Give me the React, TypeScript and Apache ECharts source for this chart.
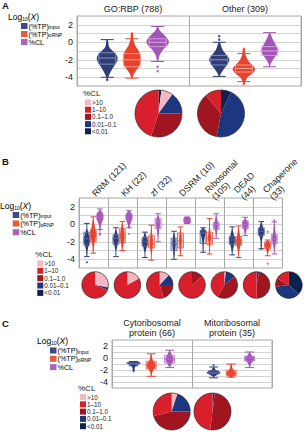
import React, { useEffect, useRef } from "react";
import * as echarts from "echarts";

const FONT = "'Liberation Sans', Arial, sans-serif";

// %CL classes, in legend order
const CL_CLASSES = [">10", "1–10", "0.1–1.0", "0.01–0.1", "<0.01"];
const CL_COLORS = ["#f3b8c1", "#d81f2b", "#a0151f", "#1d3680", "#0c2150"];
// clockwise slice order from 12 o'clock (indices into CL_CLASSES)
const SLICE_ORDER = [4, 0, 3, 2, 1];

// measures drawn per group: (%TP)input, (%TP)oRNP, %CL
const MEASURE_LABELS = ["{n|(%TP)}{s|input}", "{n|(%TP)}{s|oRNP}", "{n|%CL}"];
const DARK = ["#2f3d74", "#e6432e", "#a354b6"];
const LIGHT = ["#909ed4", "#f8ae9f", "#dcb0e6"];
const BOX_FILL = ["#bcc4e2", "#f9c6be", "#e6c8ee"];
const BOX_EDGE = ["#5b6aa6", "#e8523c", "#b470c4"];
const SWATCH = ["#3d4a86", "#e85a40", "#a963bb"];
const OFFSETS = [0.27, 0.49, 0.72];

// ---------- Panel A ----------
const A_GROUPS = ["GO:RBP (788)", "Other (309)"];
// [lower whisker, q1, median, q3, upper whisker]
const A_BOX = [
  [[-4.0, -2.5, -1.8, -1.2, 0.3], [-4.1, -2.8, -2.0, -1.3, 0.4], [-2.2, -0.5, 0.0, 0.4, 1.8]],
  [[-3.9, -2.6, -2.0, -1.5, 0.0], [-4.5, -3.4, -3.0, -2.6, -1.3], [-2.8, -1.5, -1.0, -0.5, 1.1]],
];
const A_OUTLIERS = [
  [[-4.3], [0.7, 0.85, 1.0], [-2.8, -3.3]],
  [[0.3, 0.7], [-0.75, -0.95, -1.1, -4.75], []],
];
// violin outlines: [log10 value, relative half-width]
const A_VIOLIN = [
  [
    [[0.3, 0.05], [-0.5, 0.15], [-1.0, 0.45], [-1.6, 0.8], [-2.1, 0.8], [-2.7, 0.55], [-3.3, 0.3], [-3.9, 0.1], [-4.3, 0.03]],
    [[1.0, 0.05], [0.4, 0.1], [-0.3, 0.25], [-1.0, 0.55], [-1.6, 0.7], [-2.3, 0.7], [-2.9, 0.5], [-3.5, 0.2], [-4.1, 0.03]],
    [[1.8, 0.04], [1.4, 0.15], [0.8, 0.55], [0.1, 0.9], [-0.4, 0.75], [-0.9, 0.4], [-1.5, 0.15], [-2.2, 0.03]],
  ],
  [
    [[0.0, 0.05], [-0.8, 0.25], [-1.4, 0.55], [-1.9, 0.8], [-2.4, 0.7], [-3.0, 0.4], [-3.5, 0.15], [-3.9, 0.03]],
    [[-0.8, 0.05], [-1.5, 0.15], [-2.2, 0.4], [-2.7, 0.75], [-3.1, 0.9], [-3.5, 0.7], [-4.0, 0.3], [-4.5, 0.1], [-4.8, 0.02]],
    [[1.1, 0.03], [0.5, 0.2], [-0.2, 0.45], [-0.8, 0.65], [-1.3, 0.6], [-1.9, 0.3], [-2.4, 0.1], [-2.8, 0.02]],
  ],
];
// %CL class shares per group (CL_CLASSES order)
const A_PIES = [
  [8, 45, 30, 15, 2],
  [0, 11, 36, 46, 7],
];

// ---------- Panel B ----------
const B_GROUPS = ["RRM (121)", "KH (22)", "zf (32)", "DSRM (10)", "Ribosomal\n(105)", "DEAD\n(44)", "Chaperone\n(33)"];
const B_BOX = [
  [[-3.7, -2.4, -1.65, -0.9, 0.1], [-3.3, -2.0, -1.2, -0.6, 0.85], [-0.6, 0.45, 0.8, 1.3, 1.75]],
  [[-3.7, -2.3, -1.6, -1.2, -0.4], [-3.0, -2.1, -1.2, -0.5, 0.3], [-0.4, 0.45, 0.7, 1.2, 1.55]],
  [[-3.8, -2.5, -2.0, -1.5, -0.9], [-4.1, -2.7, -2.3, -1.3, -0.1], [-2.0, -0.5, 0.2, 0.65, 1.2]],
  [[-4.0, -3.0, -2.2, -1.6, -0.8], [-3.6, -2.7, -1.9, -1.0, -0.3], [0.1, 0.15, 0.4, 0.75, 0.8]],
  [[-3.2, -2.2, -1.0, -0.7, -0.4], [-3.4, -2.3, -1.6, -0.9, 0.65], [-1.6, -0.6, -0.1, 0.2, 1.2]],
  [[-3.5, -2.3, -1.8, -1.4, -0.3], [-3.8, -2.4, -2.0, -1.4, -0.2], [-1.3, -0.5, 0.0, 0.4, 0.8]],
  [[-2.8, -1.3, -0.8, -0.4, 0.3], [-3.6, -2.8, -2.4, -2.0, -1.8], [-3.4, -2.2, -1.7, -1.2, 0.27]],
];
const B_OUTLIERS = [
  [[-4.35], [], [-1.05, -1.2]],
  [[], [], [-1.1]],
  [[], [], []],
  [[], [], []],
  [[], [], []],
  [[], [], []],
  [[-2.8], [-0.85, -4.5], [0.45]],
];
const B_VIOLIN = [
  [
    [[-0.5, 0.1], [-1.2, 0.6], [-1.7, 1.0], [-2.3, 0.7], [-3.0, 0.2], [-3.6, 0.05]],
    [[0.6, 0.1], [-0.5, 0.6], [-1.1, 0.9], [-1.8, 0.6], [-2.6, 0.2], [-3.2, 0.05]],
    [[1.6, 0.2], [1.1, 1.0], [0.6, 1.0], [0.2, 0.6], [-0.3, 0.2], [-0.9, 0.1]],
  ],
  [
    [[-0.6, 0.1], [-1.3, 0.6], [-1.7, 0.9], [-2.2, 0.6], [-3.0, 0.1]],
    [[0.1, 0.1], [-0.7, 0.5], [-1.3, 0.7], [-2.0, 0.5], [-2.8, 0.1]],
    [[1.5, 0.3], [1.0, 1.0], [0.5, 0.9], [0.0, 0.4], [-0.5, 0.1]],
  ],
  [
    [[-1.0, 0.1], [-1.6, 0.6], [-2.0, 0.9], [-2.5, 0.6], [-3.2, 0.1]],
    [[-0.3, 0.05], [-1.3, 0.3], [-2.0, 0.5], [-2.6, 0.4], [-3.5, 0.05]],
    [[1.0, 0.1], [0.5, 0.5], [0.0, 0.6], [-0.6, 0.4], [-1.5, 0.05]],
  ],
  [
    [[-1.0, 0.1], [-1.6, 0.4], [-2.3, 0.5], [-3.0, 0.3], [-3.8, 0.05]],
    [[-0.5, 0.05], [-1.2, 0.3], [-1.9, 0.4], [-2.6, 0.3], [-3.4, 0.05]],
    [[0.85, 0.7], [0.6, 1.1], [0.3, 1.1], [0.05, 0.7]],
  ],
  [
    [[-0.5, 0.3], [-0.8, 0.9], [-1.2, 0.7], [-1.8, 0.3], [-2.5, 0.1], [-3.0, 0.05]],
    [[0.2, 0.05], [-0.9, 0.3], [-1.5, 0.5], [-2.1, 0.3], [-3.0, 0.05]],
    [[1.0, 0.05], [0.3, 0.5], [-0.1, 0.7], [-0.6, 0.4], [-1.4, 0.05]],
  ],
  [
    [[-0.5, 0.05], [-1.3, 0.6], [-1.8, 0.9], [-2.3, 0.6], [-3.2, 0.05]],
    [[-0.4, 0.05], [-1.4, 0.5], [-2.0, 0.8], [-2.5, 0.5], [-3.4, 0.05]],
    [[0.7, 0.1], [0.3, 0.7], [-0.1, 0.9], [-0.5, 0.5], [-1.2, 0.05]],
  ],
  [
    [[0.2, 0.1], [-0.4, 0.6], [-0.8, 1.0], [-1.3, 0.6], [-2.0, 0.15], [-2.6, 0.15]],
    [[-1.8, 0.1], [-2.1, 0.6], [-2.4, 0.9], [-2.8, 0.5], [-3.4, 0.1]],
    [[0.2, 0.05], [-1.0, 0.4], [-1.6, 0.7], [-2.1, 0.5], [-3.0, 0.05]],
  ],
];
const B_PIES = [
  [28, 69, 0, 3, 0],
  [17, 83, 0, 0, 0],
  [12, 55, 20, 13, 0],
  [0, 86, 14, 0, 0],
  [2, 42, 44, 12, 0],
  [0, 50, 47, 3, 0],
  [0, 17, 10, 36, 37],
];

// ---------- Panel C ----------
const C_GROUPS = ["Cytoribosomal\nprotein (66)", "Mitoribosomal\nprotein (35)"];
const C_BOX = [
  [[-1.3, -1.1, -0.9, -0.7, -0.6], [-3.05, -1.8, -1.2, -0.55, 0.7], [-1.6, -0.85, -0.2, 0.45, 1.3]],
  [[-3.3, -2.6, -2.4, -2.1, -1.5], [-3.2, -2.9, -2.6, -2.05, -1.0], [-1.6, -0.5, 0.0, 0.3, 1.0]],
];
const C_OUTLIERS = [
  [[-2.0, -2.2], [], []],
  [[-1.2], [], []],
];
const C_VIOLIN = [
  [
    [[-0.5, 0.1], [-0.7, 0.8], [-0.85, 1.0], [-1.0, 0.7], [-1.3, 0.3], [-1.7, 0.15], [-2.2, 0.05]],
    [[0.6, 0.05], [-0.3, 0.2], [-0.9, 0.5], [-1.3, 0.6], [-1.8, 0.4], [-2.5, 0.1], [-3.0, 0.02]],
    [[1.2, 0.05], [0.5, 0.3], [0.0, 0.5], [-0.4, 0.5], [-0.9, 0.3], [-1.5, 0.05]],
  ],
  [
    [[-1.5, 0.05], [-2.0, 0.3], [-2.3, 0.8], [-2.5, 0.9], [-2.8, 0.5], [-3.1, 0.1]],
    [[-1.1, 0.05], [-1.8, 0.2], [-2.3, 0.5], [-2.7, 0.6], [-3.0, 0.3], [-3.3, 0.05]],
    [[0.9, 0.05], [0.4, 0.3], [0.0, 0.6], [-0.4, 0.5], [-0.9, 0.2], [-1.5, 0.05]],
  ],
];
const C_PIES = [
  [5, 29, 46, 20, 0],
  [0, 48, 50, 2, 0],
];

const Y_MIN = -5;
const Y_MAX = 3;

type PanelStyle = { mode: "solid" | "boxed"; vScale: number; box: number; cap: number; dot: number };

const PANELS = [
  {
    groups: A_GROUPS, box: A_BOX, outliers: A_OUTLIERS, violin: A_VIOLIN,
    grid: { left: 77, top: 16, width: 224, height: 70 },
    style: { mode: "solid", vScale: 12.5, box: 8.5, cap: 6.5, dot: 2.6 } as PanelStyle,
    rotate: 0,
  },
  {
    groups: B_GROUPS, box: B_BOX, outliers: B_OUTLIERS, violin: B_VIOLIN,
    grid: { left: 79, top: 198, width: 226, height: 70 },
    style: { mode: "boxed", vScale: 3.2, box: 3, cap: 2.8, dot: 2.2 } as PanelStyle,
    rotate: -45,
  },
  {
    groups: C_GROUPS, box: C_BOX, outliers: C_OUTLIERS, violin: C_VIOLIN,
    grid: { left: 112, top: 340, width: 160, height: 48 },
    style: { mode: "boxed", vScale: 7.5, box: 5, cap: 4.5, dot: 2.2 } as PanelStyle,
    rotate: 0,
  },
];

function makeRenderer(profiles: number[][][][], st: PanelStyle) {
  return (_params: any, api: any) => {
    const x = api.value(0);
    const lo = api.value(1), q1 = api.value(2), med = api.value(3), q3 = api.value(4), hi = api.value(5);
    const g = api.value(6), m = api.value(7);
    const cx = api.coord([x, 0])[0];
    const py = (v: number) => api.coord([x, v])[1];
    const prof = profiles[g][m];
    const pts = prof
      .map(([v, w]) => [cx + w * st.vScale, py(v)])
      .concat(prof.slice().reverse().map(([v, w]) => [cx - w * st.vScale, py(v)]));
    const dark = DARK[m];
    const violin = { type: "polygon", shape: { points: pts, smooth: 0.35 }, style: { fill: dark } };
    const whisker = {
      type: "line",
      shape: { x1: cx, y1: py(hi), x2: cx, y2: py(lo) },
      style: { stroke: dark, lineWidth: 0.9 },
    };
    const cap = (v: number) => ({
      type: "line",
      shape: { x1: cx - st.cap, y1: py(v), x2: cx + st.cap, y2: py(v) },
      style: { stroke: dark, lineWidth: 1 },
    });
    const boxShape = { x: cx - st.box, y: py(q3), width: 2 * st.box, height: py(q1) - py(q3) };
    const edge = st.mode === "solid" ? LIGHT[m] : BOX_EDGE[m];
    const median = {
      type: "line",
      shape: { x1: cx - st.box, y1: py(med), x2: cx + st.box, y2: py(med) },
      style: { stroke: edge, lineWidth: 0.9 },
    };
    const boxStroke = { type: "rect", shape: boxShape, style: { fill: "none", stroke: edge, lineWidth: 0.8 } };
    const children: any[] = [];
    if (st.mode === "boxed") {
      children.push({ type: "rect", shape: boxShape, style: { fill: BOX_FILL[m], opacity: 0.85 } });
    }
    children.push(whisker, violin, boxStroke, median, cap(hi), cap(lo));
    return { type: "group", children };
  };
}

// Measure legend: title line plus three swatch rows
function measureLegend(x: number, y: number, swX: number, gap: number) {
  const base = { fontFamily: FONT, color: "#222" };
  const rich = {
    t: { ...base, fontSize: 8.5 },
    ti: { ...base, fontSize: 8.5, fontStyle: "italic" },
    n: { ...base, fontSize: 7.2 },
    s: { ...base, fontSize: 5, verticalAlign: "bottom", lineHeight: 3 },
  };
  const els: any[] = [
    {
      type: "text", x, y,
      style: { text: "{t|Log}{s|10}{t|(}{ti|X}{t|)}", rich, verticalAlign: "middle" },
    },
  ];
  MEASURE_LABELS.forEach((t, k) => {
    const cy = y + 9.5 + k * gap;
    els.push({ type: "rect", shape: { x: swX, y: cy - 3, width: 6.5, height: 6 }, style: { fill: SWATCH[k] } });
    els.push({ type: "text", x: swX + 7.5, y: cy, style: { text: t, rich, verticalAlign: "middle" } });
  });
  return els;
}

// %CL legend: heading plus five swatch rows
function clLegend(x: number, y: number, gap: number) {
  const els: any[] = [
    {
      type: "text", x: x - 2, y: y - 0.5,
      style: { text: "%CL", fontSize: 8, fontFamily: FONT, fill: "#222", verticalAlign: "middle" },
    },
  ];
  CL_CLASSES.forEach((t, k) => {
    const cy = y + 8.5 + k * gap;
    els.push({ type: "rect", shape: { x, y: cy - 3, width: 6, height: 6 }, style: { fill: CL_COLORS[k] } });
    els.push({
      type: "text", x: x + 7, y: cy,
      style: { text: t, fontSize: 6.3, fontFamily: FONT, fill: "#222", verticalAlign: "middle" },
    });
  });
  return els;
}

function pieSeries(shares: number[], center: number[], r: number) {
  return [
    {
      type: "pie", silent: true, center, radius: r, startAngle: 90, clockwise: true,
      label: { show: false }, labelLine: { show: false },
      itemStyle: { borderWidth: 0 },
      data: SLICE_ORDER.map((k) => ({ name: CL_CLASSES[k], value: shares[k], itemStyle: { color: CL_COLORS[k] } })),
    },
    {
      type: "pie", silent: true, center, radius: r, label: { show: false }, labelLine: { show: false },
      itemStyle: { color: "rgba(0,0,0,0)", borderColor: "#2b2b2b", borderWidth: 0.7 },
      data: [{ value: 1, name: "outline" }],
    },
  ];
}

export default function App() {
  const ref = useRef<HTMLDivElement>(null);
  useEffect(() => {
    document.body.style.margin = "0";
    const chart = echarts.init(ref.current!, undefined, { renderer: "svg" });

    const grids: any[] = [];
    const xAxes: any[] = [];
    const yAxes: any[] = [];
    const series: any[] = [];

    PANELS.forEach((p, pi) => {
      const n = p.groups.length;
      grids.push({ ...p.grid, show: true, borderColor: "#a8a8a8", borderWidth: 1, containLabel: false });
      xAxes.push({
        gridIndex: pi, type: "value", min: 0, max: n, interval: 1,
        axisLabel: { show: false }, axisTick: { show: false }, axisLine: { show: false },
        splitLine: { show: true, lineStyle: { color: "#a8a8a8", width: 1 } },
      });
      xAxes.push({
        gridIndex: pi, type: "category", position: "top", data: p.groups,
        axisLine: { show: false }, axisTick: { show: false }, splitLine: { show: false },
        axisLabel: {
          interval: 0, rotate: p.rotate, fontSize: 9, lineHeight: 10, fontFamily: FONT, color: "#222",
          margin: p.rotate ? 3 : 2,
        },
      });
      yAxes.push({
        gridIndex: pi, type: "value", min: Y_MIN, max: Y_MAX, interval: 1,
        axisLine: { show: false }, axisTick: { show: false },
        axisLabel: {
          fontSize: 9, fontFamily: FONT, color: "#222", margin: 4,
          formatter: (v: number) => (v % 2 === 0 && v >= -4 && v <= 2 ? String(v) : ""),
        },
        splitLine: { show: true, lineStyle: { color: "#d2d2d2", width: 1 } },
      });

      const boxData: number[][] = [];
      const dots: any[] = [];
      p.box.forEach((grp, g) =>
        grp.forEach((s, m) => {
          const x = g + OFFSETS[m];
          boxData.push([x, ...s, g, m]);
          p.outliers[g][m].forEach((v) => dots.push({ value: [x, v], itemStyle: { color: DARK[m] } }));
        })
      );
      series.push({
        type: "custom", coordinateSystem: "cartesian2d", xAxisIndex: pi * 2, yAxisIndex: pi, silent: true,
        renderItem: makeRenderer(p.violin, p.style),
        encode: { x: 0, y: [1, 2, 3, 4, 5] },
        data: boxData, z: 3,
      });
      series.push({
        type: "scatter", xAxisIndex: pi * 2, yAxisIndex: pi, silent: true,
        symbol: "circle", symbolSize: p.style.dot, data: dots, z: 4,
      });
    });

    // pies
    A_PIES.forEach((s, i) => series.push(...pieSeries(s, [[158.5, 221][i], 113.5], 23.5)));
    const bGrid = PANELS[1].grid;
    B_PIES.forEach((s, i) =>
      series.push(...pieSeries(s, [bGrid.left + (i + 0.5) * (bGrid.width / B_PIES.length), 285], 13.3))
    );
    C_PIES.forEach((s, i) => series.push(...pieSeries(s, [[171.7, 212.5][i], 411.5], 18.5)));

    const letter = (t: string, y: number) => ({
      type: "text", x: 2, y, style: { text: t, fontSize: 9.5, fontWeight: "bold", fontFamily: FONT, fill: "#111" },
    });

    const graphic = [
      letter("A", 0), letter("B", 156), letter("C", 318),
      ...measureLegend(8, 16.5, 21, 8),
      ...clLegend(85, 94, 7.2),
      ...measureLegend(0, 205.5, 12.7, 8.6),
      ...clLegend(37.3, 255, 7.35),
      ...measureLegend(37, 341, 50, 8.3),
      ...clLegend(80, 388.5, 7.3),
    ];

    chart.setOption({
      animation: false,
      backgroundColor: "#ffffff",
      textStyle: { fontFamily: FONT },
      grid: grids,
      xAxis: xAxes,
      yAxis: yAxes,
      series,
      graphic,
    });
    return () => chart.dispose();
  }, []);

  return <div ref={ref} style={{ width: 307, height: 440, position: "absolute", left: 0, top: 0 }} />;
}
